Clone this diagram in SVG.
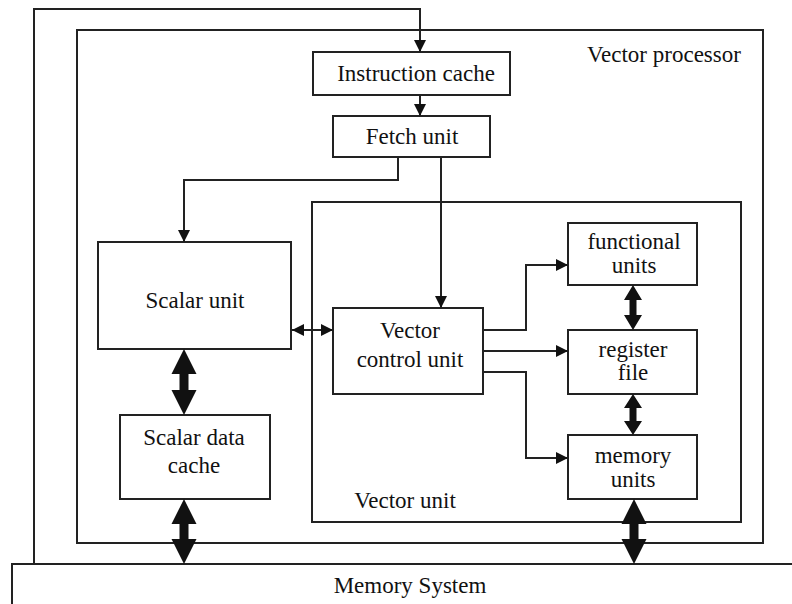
<svg xmlns="http://www.w3.org/2000/svg" width="792" height="604" viewBox="0 0 792 604">
<style>
.box{fill:#fff;stroke:#222;stroke-width:2}
.frame{fill:none;stroke:#222;stroke-width:2}
.ln{fill:none;stroke:#222;stroke-width:2}
.thick{fill:#111;stroke:none}
text{font-family:'Liberation Serif','DejaVu Serif','Times New Roman',serif;font-size:23px;fill:#111;text-anchor:middle}
</style>
<defs>
<marker id="ah" markerUnits="userSpaceOnUse" markerWidth="12" markerHeight="12" viewBox="0 0 12 12" refX="12" refY="6" orient="auto-start-reverse">
<path d="M0,0 L12,6 L0,12 z" fill="#111"/>
</marker>
</defs>
<rect width="792" height="604" fill="#fff"/>

<g id="vector-processor">
<rect class="frame" x="77" y="30" width="686" height="513"/>
<text x="587" y="62" style="text-anchor:start">Vector processor</text>
</g>
<g id="vector-unit">
<rect class="frame" x="312" y="202" width="429" height="320"/>
<text x="405" y="508">Vector unit</text>
</g>
<g id="memory-system">
<rect class="box" x="12" y="564" width="800" height="50"/>
<text x="410" y="593">Memory System</text>
</g>
<g id="instruction-cache">
<rect class="box" x="313" y="52" width="197" height="43"/>
<text x="416" y="81">Instruction cache</text>
</g>
<g id="fetch-unit">
<rect class="box" x="333" y="116" width="157" height="41"/>
<text x="412" y="144">Fetch unit</text>
</g>
<g id="scalar-unit">
<rect class="box" x="98" y="242" width="193" height="107"/>
<text x="195" y="308">Scalar unit</text>
</g>
<g id="scalar-data-cache">
<rect class="box" x="120" y="415" width="150" height="84"/>
<text x="194" y="445">Scalar data</text>
<text x="194" y="473">cache</text>
</g>
<g id="vector-control-unit">
<rect class="box" x="333" y="308" width="150" height="86"/>
<text x="410" y="338">Vector</text>
<text x="410" y="367">control unit</text>
</g>
<g id="functional-units">
<rect class="box" x="568" y="223" width="129" height="62"/>
<text x="634" y="249">functional</text>
<text x="634" y="273">units</text>
</g>
<g id="register-file">
<rect class="box" x="568" y="330" width="129" height="64"/>
<text x="633" y="357">register</text>
<text x="633" y="380">file</text>
</g>
<g id="memory-units">
<rect class="box" x="568" y="435" width="129" height="64"/>
<text x="633" y="463">memory</text>
<text x="633" y="487">units</text>
</g>

<g id="connectors">
<polyline class="ln" points="34,564 34,9 420,9 420,52" marker-end="url(#ah)"/>
<line class="ln" x1="420" y1="95" x2="420" y2="116" marker-end="url(#ah)"/>
<polyline class="ln" points="398,157 398,180 184,180 184,242" marker-end="url(#ah)"/>
<line class="ln" x1="441" y1="157" x2="441" y2="308" marker-end="url(#ah)"/>
<line class="ln" x1="292" y1="330" x2="333" y2="330" marker-start="url(#ah)" marker-end="url(#ah)"/>
<polyline class="ln" points="483,330 526,330 526,265 568,265" marker-end="url(#ah)"/>
<line class="ln" x1="483" y1="351" x2="568" y2="351" marker-end="url(#ah)"/>
<polyline class="ln" points="483,372 526,372 526,458 568,458" marker-end="url(#ah)"/>
<polygon class="thick" points="184,349 196.5,374 188.5,374 188.5,390 196.5,390 184,415 171.5,390 179.5,390 179.5,374 171.5,374"/>
<polygon class="thick" points="184,499 196.5,524 188.5,524 188.5,539 196.5,539 184,564 171.5,539 179.5,539 179.5,524 171.5,524"/>
<polygon class="thick" points="634,499 646.5,524 638.5,524 638.5,539 646.5,539 634,564 621.5,539 629.5,539 629.5,524 621.5,524"/>
<polygon class="thick" points="633,285 642,300 636.5,300 636.5,315 642,315 633,330 624,315 629.5,315 629.5,300 624,300"/>
<polygon class="thick" points="633,394 642,408 636.5,408 636.5,421 642,421 633,435 624,421 629.5,421 629.5,408 624,408"/>
</g>
</svg>
